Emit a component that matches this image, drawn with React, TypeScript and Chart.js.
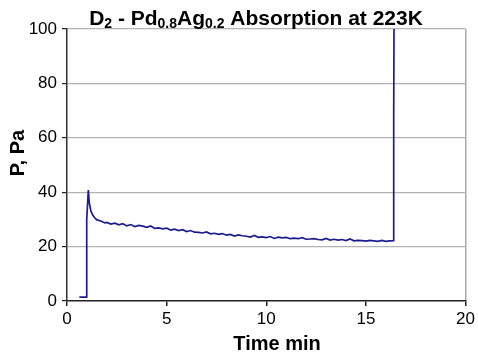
import React, { useEffect, useRef } from "react";
import { Chart, registerables } from "chart.js";

Chart.register(...registerables);

const timeMin = [
  0.62, 0.98, 0.99, 1.07, 1.12, 1.2, 1.3, 1.4, 1.5, 1.7, 1.9, 2.0, 2.2, 2.4, 2.6, 2.8,
  3.0, 3.2, 3.4, 3.6, 3.8, 4.0, 4.2, 4.4, 4.6, 4.8, 5.0, 5.2, 5.4, 5.6, 5.8, 6.0,
  6.2, 6.4, 6.6, 6.8, 7.0, 7.2, 7.4, 7.6, 7.8, 8.0, 8.2, 8.4, 8.6, 8.8, 9.0, 9.2,
  9.4, 9.6, 9.8, 10.0, 10.2, 10.4, 10.6, 10.8, 11.0, 11.2, 11.4, 11.6, 11.8, 12.0,
  12.2, 12.4, 12.6, 12.8, 13.0, 13.2, 13.4, 13.6, 13.8, 14.0, 14.2, 14.4, 14.6,
  14.8, 15.0, 15.2, 15.4, 15.6, 15.8, 16.0, 16.2, 16.38, 16.39, 16.4, 16.41,
];
const pressurePa = [
  1.4, 1.4, 30, 40.8, 36, 33, 31.5, 30.5, 29.8, 29.4, 28.7, 28.9, 28.3, 28.6, 28.0, 28.4,
  27.6, 28.1, 27.4, 27.8, 27.5, 27.1, 27.6, 26.7, 26.9, 26.5, 26.8, 26.1, 26.4, 25.9,
  26.2, 25.5, 25.9, 25.3, 25.2, 25.0, 25.4, 24.7, 24.9, 24.5, 24.8, 24.2, 24.5, 23.9,
  24.3, 24.0, 23.8, 23.5, 24.1, 23.4, 23.6, 23.3, 23.7, 23.0, 23.5, 23.2, 23.4, 22.9,
  23.1, 22.9, 23.3, 22.7, 22.8, 22.9, 22.6, 22.5, 23.0, 22.4, 22.7, 22.4, 22.6, 22.2,
  22.8, 22.1, 22.3, 22.2, 22.0, 22.3, 22.1, 21.9, 22.3, 21.9, 22.1, 22.2, 66, 67, 100,
];

const xTickStep = 5;
const yTickStep = 20;

const FONT = "'Liberation Sans', Arial, sans-serif";

const textPlugin = {
  id: "texts",
  afterDraw(chart: any) {
    const ctx = chart.ctx as CanvasRenderingContext2D;
    ctx.save();
    ctx.fillStyle = "#000";
    const parts: [string, boolean][] = [
      ["D", false], ["2", true], [" - Pd", false], ["0.8", true],
      ["Ag", false], ["0.2", true], [" Absorption at 223K", false],
    ];
    const big = `bold 21px ${FONT}`;
    const small = `bold 14px ${FONT}`;
    let total = 0;
    for (const [t, s] of parts) {
      ctx.font = s ? small : big;
      total += ctx.measureText(t).width;
    }
    let x = 256 - total / 2;
    const base = 25;
    ctx.textBaseline = "alphabetic";
    ctx.textAlign = "left";
    for (const [t, s] of parts) {
      ctx.font = s ? small : big;
      ctx.fillText(t, x, s ? base + 3 : base);
      x += ctx.measureText(t).width;
    }
    ctx.font = `bold 20px ${FONT}`;
    ctx.textAlign = "center";
    ctx.fillText("Time min", 277, 350);
    ctx.translate(24, 153);
    ctx.rotate(-Math.PI / 2);
    ctx.fillText("P, Pa", 0, 0);
    ctx.restore();
  },
};

export default function App() {
  const ref = useRef<HTMLCanvasElement>(null);
  useEffect(() => {
    document.body.style.margin = "0";
    const data = timeMin.map((t, i) => ({ x: t, y: pressurePa[i] }));
    const chart = new Chart(ref.current!, {
      type: "scatter",
      data: {
        datasets: [
          {
            data,
            showLine: true,
            borderColor: "#1c1c8e",
            borderWidth: 1.7,
            pointRadius: 0,
            tension: 0,
          },
        ],
      },
      options: {
        animation: false,
        responsive: false,
        layout: { padding: { left: 0, right: 11, top: 29, bottom: 0 } },
        plugins: { legend: { display: false }, tooltip: { enabled: false }, title: { display: false } },
        scales: {
          x: {
            type: "linear",
            min: 0,
            max: 20,
            afterFit: (s: any) => { s.height = 58; },
            ticks: {
              stepSize: xTickStep,
              color: "#000",
              font: { family: FONT, size: 17 },
              padding: 3,
              maxRotation: 0,
            },
            grid: {
              color: (c: any) => (c.tick && c.tick.value === 20 ? "#a8a8a8" : "rgba(0,0,0,0)"),
              lineWidth: 1.5,
              tickColor: "#222",
              tickLength: 5,
            },
            border: { color: "#222", width: 1.5 },
          },
          y: {
            min: 0,
            max: 100,
            afterFit: (s: any) => { s.width = 67; },
            ticks: {
              stepSize: yTickStep,
              color: "#000",
              font: { family: FONT, size: 17 },
              padding: 5,
            },
            grid: {
              color: (c: any) => (c.tick && c.tick.value === 0 ? "rgba(0,0,0,0)" : "#b4b4b4"),
              lineWidth: 1.2,
              tickColor: "#222",
              tickLength: 5,
            },
            border: { color: "#333", width: 1.5 },
          },
        },
      },
      plugins: [textPlugin],
    });
    return () => chart.destroy();
  }, []);
  return (
    <div style={{ width: 478, height: 359 }}>
      <canvas ref={ref} width={478} height={359} />
    </div>
  );
}
